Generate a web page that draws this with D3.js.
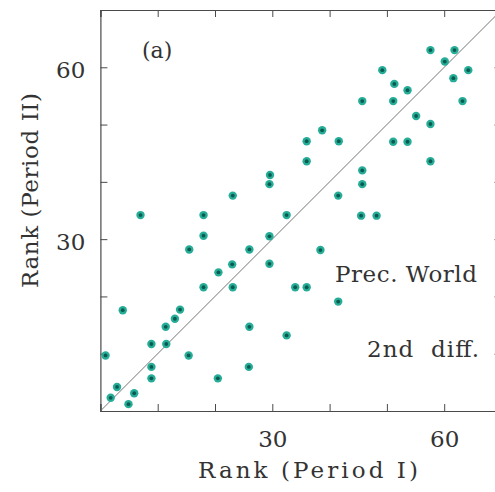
<!DOCTYPE html>
<html>
<head>
<meta charset="utf-8">
<script src="https://cdn.jsdelivr.net/npm/d3@7"></script>
<style>
  body { margin: 0; background: #fff; }
  svg text { font-family: 'DejaVu Serif', serif; fill: #333; }
</style>
</head>
<body>
<svg id="graph1" width="495" height="492"></svg>
<script>
// rank of each country in period I (x) and period II (y)
let rankPeriod1 = [57.6, 61.8, 60.1, 64.2, 49.2, 61.6, 51.3, 53.6, 45.7, 51.1, 63.2,
  55.1, 57.6, 38.7, 36.0, 41.6, 51.1, 53.6, 36.0, 57.6, 45.7, 45.7, 41.5, 45.5,
  48.2, 38.4, 29.6, 29.5, 23.1, 7.0, 18.0, 32.5, 18.0, 29.5, 15.5, 26.0, 23.0,
  29.5, 20.6, 18.0, 23.1, 3.9, 13.9, 13.0, 11.4, 26.0, 32.5, 8.9, 11.5, 0.9,
  15.4, 8.9, 25.9, 8.9, 20.5, 2.9, 1.8, 5.9, 4.9, 34.0, 36.0, 41.5];
let rankPeriod2 = [63.0, 63.0, 61.0, 59.5, 59.5, 58.1, 57.1, 56.0, 54.1, 54.1, 54.1,
  51.5, 50.1, 49.0, 47.1, 47.1, 47.0, 47.0, 43.6, 43.6, 42.0, 39.6, 37.6, 34.1,
  34.1, 28.1, 41.2, 39.6, 37.6, 34.2, 34.2, 34.2, 30.6, 30.5, 28.2, 28.2, 25.6,
  25.7, 24.2, 21.6, 21.6, 17.6, 17.7, 16.1, 14.7, 14.7, 13.2, 11.7, 11.7, 9.7,
  9.7, 7.7, 7.7, 5.7, 5.7, 4.2, 2.3, 3.1, 1.2, 21.6, 21.6, 19.1];
let tickValues = [0, 10, 20, 30, 40, 50, 60, 70];
let labelTicks = [30, 60];
let panelLabel = '(a)';
let noteLines = ['Prec. World', '2nd diff.'];
let xTitle = 'Rank (Period I)';
let yTitle = 'Rank (Period II)';

let data = rankPeriod1.map(function(d, i) {
  return { x: d, y: rankPeriod2[i] };
});

let svg = d3.select('#graph1');

let x = d3.scaleLinear().domain([0, 70]).range([100.4, 501.5]);
let y = d3.scaleLinear().domain([0, 70]).range([411, 10]);

// axes with inward ticks, labels only at 30 and 60
function tickFmt(d) {
  return labelTicks.indexOf(d) >= 0 ? d : '';
}

let axisColor = '#4a4a4a';

let axisB = svg.append('g')
  .attr('transform', 'translate(0,' + y(0) + ')')
  .call(d3.axisBottom(x).tickValues(tickValues).tickSize(-7).tickPadding(20).tickFormat(tickFmt));
let axisT = svg.append('g')
  .attr('transform', 'translate(0,' + y(70) + ')')
  .call(d3.axisTop(x).tickValues(tickValues).tickSize(-7).tickFormat(''));
let axisL = svg.append('g')
  .attr('transform', 'translate(' + x(0) + ',0)')
  .call(d3.axisLeft(y).tickValues(tickValues).tickSize(-7).tickPadding(15).tickFormat(tickFmt));
let axisR = svg.append('g')
  .attr('transform', 'translate(' + x(70) + ',0)')
  .call(d3.axisRight(y).tickValues(tickValues).tickSize(-7).tickFormat(''));

[axisB, axisT, axisL, axisR].forEach(function(g) {
  g.selectAll('path').attr('stroke', axisColor).attr('stroke-width', 1.2);
  g.selectAll('line').attr('stroke', axisColor).attr('stroke-width', 1);
  g.selectAll('text')
    .attr('font-family', 'DejaVu Serif')
    .attr('font-size', 23)
    .attr('fill', '#333');
});
axisL.selectAll('text').attr('dy', '0.45em');

// diagonal y = x
svg.append('line')
  .attr('x1', x(0)).attr('y1', y(0))
  .attr('x2', x(70)).attr('y2', y(70))
  .attr('stroke', '#666')
  .attr('stroke-width', 0.9);

// points
let pts = svg.append('g').selectAll('g')
  .data(data)
  .enter()
  .append('g');

pts.append('circle')
  .attr('cx', function(d) { return x(d.x); })
  .attr('cy', function(d) { return y(d.y); })
  .attr('r', 4.2)
  .attr('fill', '#26ad98');

pts.append('circle')
  .attr('cx', function(d) { return x(d.x); })
  .attr('cy', function(d) { return y(d.y); })
  .attr('r', 1.9)
  .attr('fill', '#0b5a4e');

// annotations
svg.append('text')
  .attr('x', 142)
  .attr('y', 58)
  .attr('font-size', 22)
  .text(panelLabel);

svg.append('text')
  .attr('x', 335)
  .attr('y', 282)
  .attr('font-size', 23)
  .attr('textLength', 142)
  .text(noteLines[0]);

svg.append('text')
  .attr('x', 367)
  .attr('y', 357)
  .attr('font-size', 23)
  .attr('textLength', 112)
  .style('white-space', 'pre')
  .text(noteLines[1].replace(' ', '  '));

// axis titles
svg.append('text')
  .attr('x', 198)
  .attr('y', 478)
  .attr('font-size', 23)
  .attr('textLength', 220)
  .text(xTitle);

svg.append('text')
  .attr('transform', 'translate(38,288) rotate(-90)')
  .attr('x', 0)
  .attr('y', 0)
  .attr('font-size', 23)
  .attr('textLength', 195)
  .text(yTitle);
</script>
</body>
</html>
